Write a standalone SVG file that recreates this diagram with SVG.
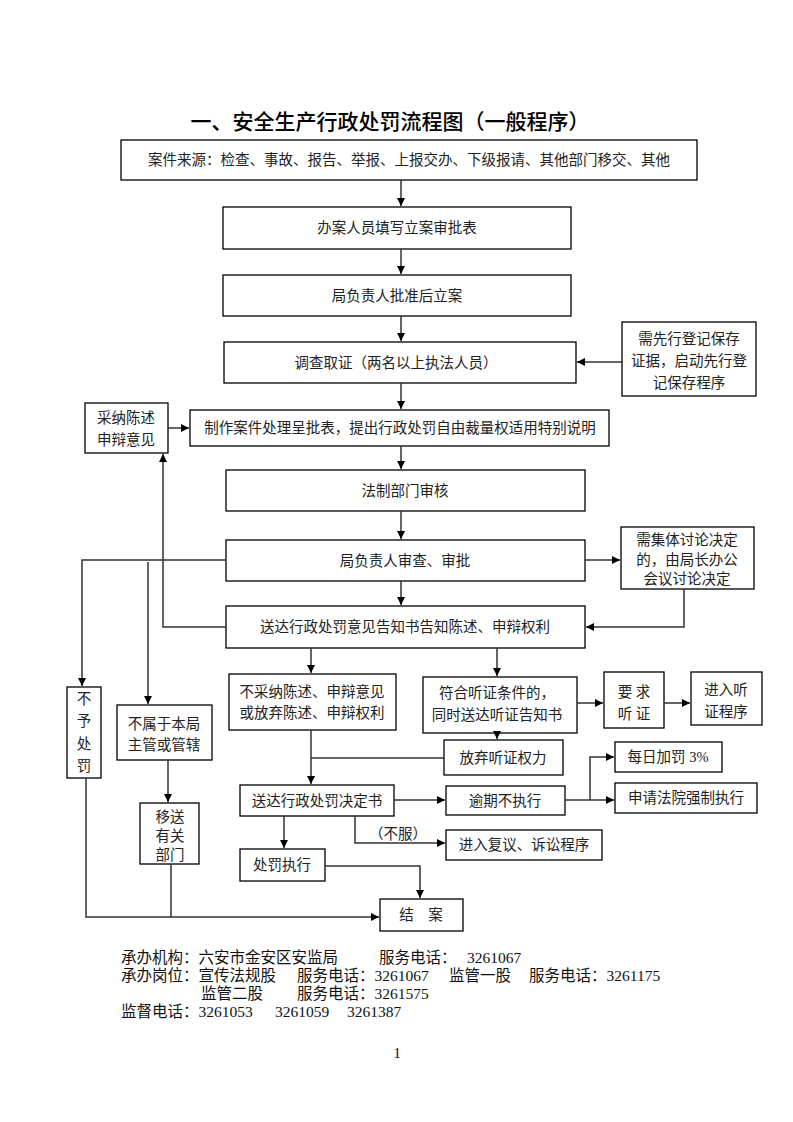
<svg xmlns="http://www.w3.org/2000/svg" width="793" height="1122" viewBox="0 0 793 1122">
<style>
.b{fill:#fff;stroke:#000;stroke-width:1.3}
.t{font-family:"Liberation Serif","Noto Sans CJK SC",serif;font-size:14.5px;fill:#222;text-anchor:middle}
.c{fill:none;stroke:#333;stroke-width:1.5}
.f{font-family:"Liberation Serif","Noto Sans CJK SC",serif;font-size:15.5px;fill:#111}
</style>
<defs>
<marker id="a" viewBox="0 0 10 10" refX="10" refY="5" markerWidth="8" markerHeight="8" markerUnits="userSpaceOnUse" orient="auto"><path d="M0,0L10,5L0,10z" fill="#000"/></marker>
</defs>
<rect width="793" height="1122" fill="#fff"/>
<text x="390" y="129" font-family="'Noto Sans CJK SC',sans-serif" font-size="21" font-weight="500" text-anchor="middle" fill="#000">一、安全生产行政处罚流程图（一般程序）</text>

<g id="n1"><rect class="b" x="121" y="140" width="576" height="40"/><text class="t" x="409" y="165">案件来源：检查、事故、报告、举报、上报交办、下级报请、其他部门移交、其他</text></g>
<g id="n2"><rect class="b" x="223" y="207" width="348" height="42"/><text class="t" x="397" y="233">办案人员填写立案审批表</text></g>
<g id="n3"><rect class="b" x="223" y="275" width="348" height="41"/><text class="t" x="397" y="301">局负责人批准后立案</text></g>
<g id="n4"><rect class="b" x="224" y="342" width="352" height="41"/><text class="t" x="396" y="368">调查取证（两名以上执法人员）</text></g>
<g id="n5"><rect class="b" x="622" y="322" width="134" height="74"/><text class="t" x="689" y="344">需先行登记保存</text><text class="t" x="689" y="366">证据，启动先行登</text><text class="t" x="689" y="388">记保存程序</text></g>
<g id="n6"><rect class="b" x="85" y="403" width="83" height="50"/><text class="t" x="126" y="423">采纳陈述</text><text class="t" x="126" y="445">申辩意见</text></g>
<g id="n7"><rect class="b" x="190" y="410" width="419" height="36"/><text class="t" x="400" y="433">制作案件处理呈批表，提出行政处罚自由裁量权适用特别说明</text></g>
<g id="n8"><rect class="b" x="226" y="470" width="359" height="41"/><text class="t" x="405" y="496">法制部门审核</text></g>
<g id="n9"><rect class="b" x="226" y="540" width="359" height="41"/><text class="t" x="405" y="566">局负责人审查、审批</text></g>
<g id="n10"><rect class="b" x="621" y="527" width="133" height="62"/><text class="t" x="687" y="545">需集体讨论决定</text><text class="t" x="687" y="565">的，由局长办公</text><text class="t" x="687" y="584">会议讨论决定</text></g>
<g id="n11"><rect class="b" x="226" y="606" width="359" height="42"/><text class="t" x="405" y="632">送达行政处罚意见告知书告知陈述、申辩权利</text></g>
<g id="n12"><rect class="b" x="67" y="687" width="34" height="91"/><text class="t" x="84" y="704">不</text><text class="t" x="84" y="726">予</text><text class="t" x="84" y="749">处</text><text class="t" x="84" y="771">罚</text></g>
<g id="n13"><rect class="b" x="117" y="705" width="95" height="55"/><text class="t" x="164" y="729">不属于本局</text><text class="t" x="164" y="750">主管或管辖</text></g>
<g id="n14"><rect class="b" x="229" y="674" width="167" height="56"/><text class="t" x="312" y="697">不采纳陈述、申辩意见</text><text class="t" x="312" y="718">或放弃陈述、申辩权利</text></g>
<g id="n15"><rect class="b" x="423" y="677" width="154" height="56"/><text class="t" x="497" y="698">符合听证条件的，</text><text class="t" x="497" y="720">同时送达听证告知书</text></g>
<g id="n16"><rect class="b" x="604" y="672" width="60" height="56"/><text class="t" x="634" y="697" xml:space="preserve">要 求</text><text class="t" x="634" y="719" xml:space="preserve">听 证</text></g>
<g id="n17"><rect class="b" x="691" y="672" width="71" height="53"/><text class="t" x="726" y="695">进入听</text><text class="t" x="726" y="717">证程序</text></g>
<g id="n18"><rect class="b" x="444" y="740" width="119" height="35"/><text class="t" x="503" y="763">放弃听证权力</text></g>
<g id="n19"><rect class="b" x="615" y="742" width="107" height="30"/><text class="t" x="668" y="762">每日加罚 3%</text></g>
<g id="n20"><rect class="b" x="240" y="785" width="154" height="31"/><text class="t" x="317" y="806">送达行政处罚决定书</text></g>
<g id="n21"><rect class="b" x="446" y="786" width="119" height="29"/><text class="t" x="505" y="806">逾期不执行</text></g>
<g id="n22"><rect class="b" x="615" y="783" width="142" height="30"/><text class="t" x="686" y="803">申请法院强制执行</text></g>
<g id="n23"><rect class="b" x="140" y="803" width="59" height="61"/><text class="t" x="170" y="822">移送</text><text class="t" x="170" y="841">有关</text><text class="t" x="170" y="860">部门</text></g>
<g id="n24"><rect class="b" x="446" y="830" width="156" height="30"/><text class="t" x="524" y="850">进入复议、诉讼程序</text></g>
<g id="n25"><rect class="b" x="240" y="849" width="85" height="32"/><text class="t" x="282" y="870">处罚执行</text></g>
<g id="n26"><rect class="b" x="380" y="899" width="83" height="32"/><text class="t" x="421" y="920">结　案</text></g>

<g id="connectors" class="c">
<path d="M401,180V206" marker-end="url(#a)"/>
<path d="M401,249V274" marker-end="url(#a)"/>
<path d="M401,316V341" marker-end="url(#a)"/>
<path d="M622,362H577" marker-end="url(#a)"/>
<path d="M401,383V409" marker-end="url(#a)"/>
<path d="M168,428H189" marker-end="url(#a)"/>
<path d="M401,446V469" marker-end="url(#a)"/>
<path d="M401,511V539" marker-end="url(#a)"/>
<path d="M585,560H620" marker-end="url(#a)"/>
<path d="M684,589V627H586" marker-end="url(#a)"/>
<path d="M401,581V605" marker-end="url(#a)"/>
<path d="M226,627H163V454" marker-end="url(#a)"/>
<path d="M226,560H82V686" marker-end="url(#a)"/>
<path d="M148,562V704" marker-end="url(#a)"/>
<path d="M311,648V673" marker-end="url(#a)"/>
<path d="M497,648V676" marker-end="url(#a)"/>
<path d="M577,703H603" marker-end="url(#a)"/>
<path d="M664,703H690" marker-end="url(#a)"/>
<path d="M497,733V739" marker-end="url(#a)"/>
<path d="M444,758H311"/>
<path d="M311,730V784" marker-end="url(#a)"/>
<path d="M168,760V802" marker-end="url(#a)"/>
<path d="M394,800H445" marker-end="url(#a)"/>
<path d="M565,800H614" marker-end="url(#a)"/>
<path d="M590,800V757H614" marker-end="url(#a)"/>
<path d="M284,816V848" marker-end="url(#a)"/>
<path d="M355,816V843H445" marker-end="url(#a)"/>
<path d="M325,866H420V898" marker-end="url(#a)"/>
<path d="M86,778V917H379" marker-end="url(#a)"/>
<path d="M171,864V917"/>
<text x="398" y="839" class="t" stroke="none">（不服）</text>
</g>

<g id="footer" class="f">
<text x="121" y="963">承办机构：六安市金安区安监局</text><text x="379" y="963">服务电话：</text><text x="467" y="963">3261067</text>
<text x="121" y="981">承办岗位：宣传法规股</text><text x="297" y="981">服务电话：3261067</text><text x="449" y="981">监管一股</text><text x="529" y="981">服务电话：3261175</text>
<text x="201" y="999">监管二股</text><text x="297" y="999">服务电话：3261575</text>
<text x="121" y="1017">监督电话：3261053</text><text x="275" y="1017">3261059</text><text x="347" y="1017">3261387</text>
<text x="397" y="1058" text-anchor="middle">1</text>
</g>
</svg>
